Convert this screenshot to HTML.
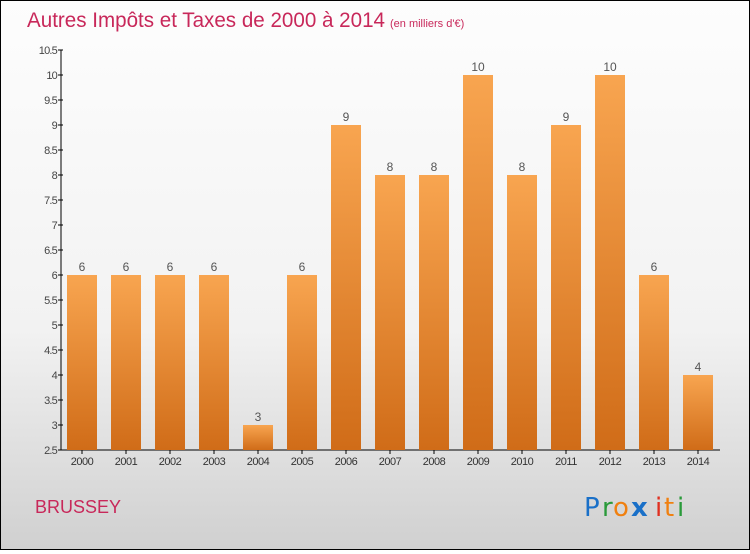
<!DOCTYPE html>
<html><head><meta charset="utf-8"><style>
body{margin:0;width:750px;height:550px;overflow:hidden;font-family:"Liberation Sans",sans-serif}
#wrap{position:absolute;left:0;top:0;width:748px;height:548px;border:1px solid #000;background:linear-gradient(#fdfdfd,#f2f2f2 60%,#d0d0d0);}
</style></head><body>
<div id="wrap">
<svg width="748" height="548" viewBox="1 1 748 548">
<defs><linearGradient id="bg" x1="0" y1="0" x2="0" y2="1"><stop offset="0" stop-color="#f8a550"/><stop offset="1" stop-color="#d06c18"/></linearGradient></defs>
<text x="27" y="27" font-size="21" fill="#c8285a" font-family="'Liberation Sans',sans-serif" textLength="358" lengthAdjust="spacingAndGlyphs">Autres Impôts et Taxes de 2000 à 2014</text>
<text x="390" y="27" font-size="11" fill="#c8285a">(en milliers d'€)</text>
<g id="axes"></g><g id="bars"></g>
<text x="35" y="513" font-size="18" fill="#c8285a">BRUSSEY</text>
<g font-size="26" font-family="'DejaVu Sans',sans-serif">
<text x="584" y="516" fill="#1a70c8">P</text><text x="602" y="516" fill="#2a9a3a">r</text><text x="613" y="516" fill="#f08010">o</text>
<text x="631" y="516" font-weight="bold" fill="#1a70c8">x</text><text x="655" y="516" fill="#e03020">i</text><text x="664" y="516" fill="#f08010">t</text><text x="677" y="516" fill="#2a9a3a">i</text></g>
</svg></div>
<script>
const years=["2000","2001","2002","2003","2004","2005","2006","2007","2008","2009","2010","2011","2012","2013","2014"];
const values=[6,6,6,6,3,6,9,8,8,10,8,9,10,6,4];
const yTicks=[2.5,3,3.5,4,4.5,5,5.5,6,6.5,7,7.5,8,8.5,9,9.5,10,10.5];
const NS="http://www.w3.org/2000/svg";
const y=v=>450-(v-2.5)*50, x=i=>82+i*44;
function mk(t,a,p){const e=document.createElementNS(NS,t);for(const k in a)e.setAttribute(k,a[k]);p.appendChild(e);return e;}
const ax=document.getElementById('axes'),bs=document.getElementById('bars');
const yl=mk('line',{x1:61,y1:50,x2:61,y2:450,stroke:'#000'},ax);


const xl=mk('line',{x1:61,y1:450,x2:720,y2:450,stroke:'#000'},ax);


yTicks.forEach(v=>{mk('line',{x1:58,y1:y(v),x2:63,y2:y(v),stroke:'#000'},ax);
const t=mk('text',{x:57,y:y(v)+4,'text-anchor':'end','font-size':11,fill:'#444','letter-spacing':'-0.8'},ax);t.textContent=v;

});
years.forEach((yr,i)=>{const v=values[i];
const r=mk('rect',{x:x(i)-15,y:y(v),width:30,height:450-y(v),fill:'url(#bg)'},bs);


mk('line',{x1:x(i),y1:450,x2:x(i),y2:454,stroke:'#000'},ax);
const t=mk('text',{x:x(i),y:465,'text-anchor':'middle','font-size':11,fill:'#333','letter-spacing':'-0.5'},ax);t.textContent=yr;


const l=mk('text',{x:x(i),y:y(v)-4,'text-anchor':'middle','font-size':12,fill:'#555'},bs);l.textContent=v;

});
</script>
</body></html>
